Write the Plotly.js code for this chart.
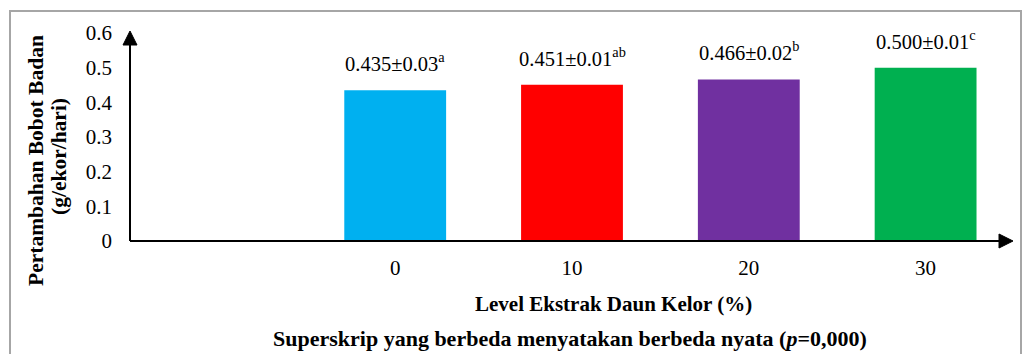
<!DOCTYPE html>
<html><head><meta charset="utf-8">
<script src="https://cdn.plot.ly/plotly-3.0.1.min.js"></script>
<style>html,body{margin:0;padding:0;background:#fff}#c{width:1027px;height:354px}</style>
</head><body><div id="c"></div>
<script>
const levels = [0, 10, 20, 30];
const tickLabels = ["0", "10", "20", "30"];
const gain = [0.435, 0.451, 0.466, 0.500];
const sdVals = ["0.03", "0.01", "0.02", "0.01"];
const superscripts = ["a", "ab", "b", "c"];
const colors = ["#00B0F0", "#FF0000", "#7030A0", "#00B050"];
const yTicks = [0, 0.1, 0.2, 0.3, 0.4, 0.5, 0.6];
const yTickLabels = ["0", "0.1", "0.2", "0.3", "0.4", "0.5", "0.6"];

const F = "Liberation Serif";

const trace = {
  type: "bar", x: levels, y: gain, width: 5.76,
  marker: {color: colors, line: {width: 0}},
  hoverinfo: "skip"
};

const annotations = levels.map((lv, i) => ({
  x: lv, y: gain[i], xref: "x", yref: "y", yanchor: "bottom", yshift: 13,
  text: gain[i].toFixed(3) + "±" + sdVals[i] + "<sup>" + superscripts[i] + "</sup>",
  showarrow: false, font: {family: F, size: 20.5, color: "#000"}
}));
const bold = s => ({family: F, size: s, color: "#000", weight: "bold"});
annotations.push(
  {xref: "paper", yref: "paper", x: (36 - 130) / 884, y: (241 - 161) / 208, xanchor: "center", yanchor: "middle",
   text: "Pertambahan Bobot Badan", textangle: -90, showarrow: false, font: bold(21.5)},
  {xref: "paper", yref: "paper", x: (59 - 130) / 884, y: (241 - 157) / 208, xanchor: "center", yanchor: "middle",
   text: "(g/ekor/hari)", textangle: -90, showarrow: false, font: bold(21.5)},
  {xref: "paper", yref: "paper", x: (613 - 130) / 884, y: (241 - 304) / 208, xanchor: "center", yanchor: "middle",
   text: "Level Ekstrak Daun Kelor (%)", showarrow: false, font: bold(21)},
  {xref: "paper", yref: "paper", x: (570 - 130) / 884, y: (241 - 338) / 208, xanchor: "center", yanchor: "middle",
   text: "Superskrip yang berbeda menyatakan berbeda nyata (<i>p</i>=0,000)", showarrow: false, font: bold(22)}
);

const px = v => (v - 130) / 884;
const py = v => (241 - v) / 208;
const shapes = [
  {type: "rect", xref: "paper", yref: "paper", x0: px(10), x1: px(1021), y0: py(380), y1: py(11),
   line: {color: "#A6A6A6", width: 2}, fillcolor: "rgba(0,0,0,0)", layer: "below"},
  {type: "line", xref: "paper", yref: "paper", x0: 0, x1: 0, y0: 0, y1: py(44), line: {color: "#000", width: 2}},
  {type: "path", xref: "paper", yref: "paper",
   path: `M ${px(123)} ${py(45)} L ${px(130)} ${py(31)} L ${px(137)} ${py(45)} Z`,
   fillcolor: "#000", line: {color: "#000", width: 1}},
  {type: "line", xref: "paper", yref: "paper", x0: 0, x1: px(1000), y0: 0, y1: 0, line: {color: "#000", width: 2}},
  {type: "path", xref: "paper", yref: "paper",
   path: `M ${px(999)} ${py(234)} L ${px(1013)} ${py(241)} L ${px(999)} ${py(248)} Z`,
   fillcolor: "#000", line: {color: "#000", width: 1}}
];

const layout = {
  width: 1027, height: 354,
  margin: {l: 130, r: 13, t: 33, b: 113},
  paper_bgcolor: "#fff", plot_bgcolor: "#fff",
  showlegend: false,
  xaxis: {range: [-15, 35], tickvals: levels, ticktext: tickLabels, showgrid: false, zeroline: false,
          showline: false, ticks: "", ticklabelstandoff: 12, tickfont: {family: F, size: 21, color: "#000"}, fixedrange: true},
  yaxis: {range: [0, 0.6], tickvals: yTicks, ticktext: yTickLabels,
          showgrid: false, zeroline: false, showline: false, ticks: "", ticklabelstandoff: 17,
          tickfont: {family: F, size: 21, color: "#000"}, fixedrange: true},
  annotations: annotations, shapes: shapes
};
Plotly.newPlot("c", [trace], layout, {displayModeBar: false});
</script></body></html>
